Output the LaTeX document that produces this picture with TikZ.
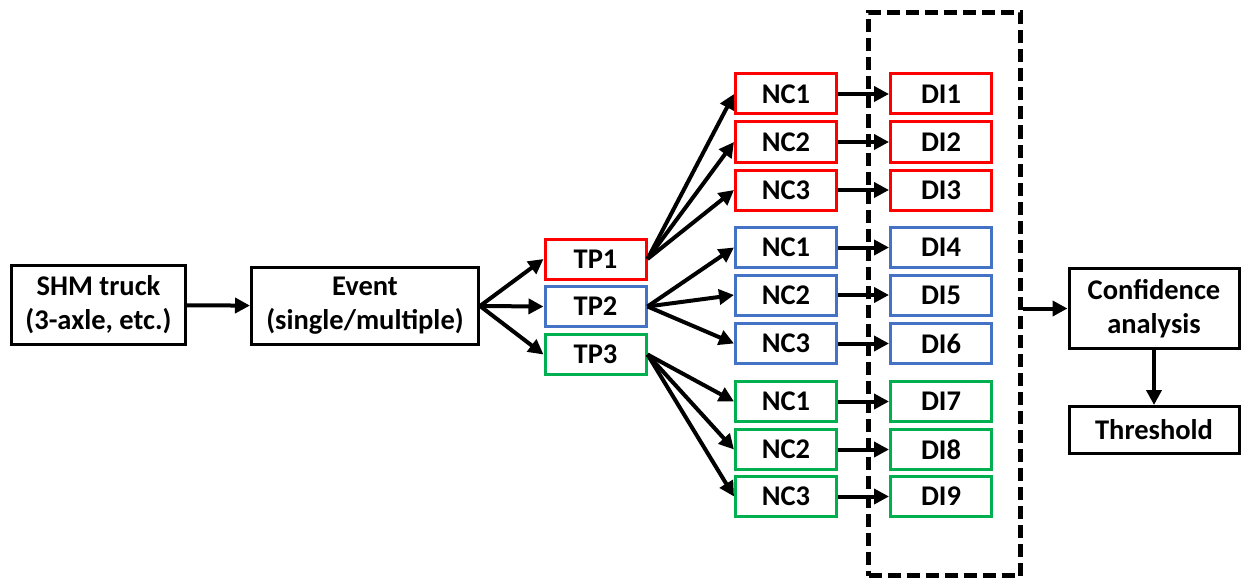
\documentclass[tikz,border=0pt]{standalone}
\usepackage{fontspec}
\setmainfont{Carlito}
\usetikzlibrary{arrows.meta}
\definecolor{tpred}{RGB}{255,0,0}
\definecolor{tpblue}{RGB}{68,114,196}
\definecolor{tpgreen}{RGB}{0,176,80}
\tikzset{arrow/.style = {line width=4pt,->,>={Stealth[length=15pt,width=15pt,inset=0pt]}}}
\tikzset{blk/.style = {draw, line width=3pt, inner sep=0pt, align=center, font=\fontsize{28.5}{34}\selectfont\bfseries}}
\tikzset{small/.style = {blk, minimum width=101pt, minimum height=40pt}}

\begin{document}
\begin{tikzpicture}[x=1pt,y=-1pt]
\useasboundingbox (0,0) rectangle (1241,583);

% left part
\node[blk, minimum width=174pt, minimum height=79pt] (truck) at (98.5,305) {SHM truck\\(3-axle, etc.)};
\node[blk, minimum width=227pt, minimum height=77pt] (event) at (365,306) {Event\\(single/multiple)};

\node[small, draw=tpred] (tp1) at (595.5,259) {TP1};
\node[small, draw=tpblue] (tp2) at (595.5,306.5) {TP2};
\node[small, draw=tpgreen] (tp3) at (595.5,354.5) {TP3};

% dashed frame round the DIs
\node[draw, dash pattern=on 13pt off 6pt, line width=5pt, minimum width=152pt, minimum height=563pt] (dibox) at (944.5,294) {};

\foreach \i/\y/\c/\k in {1/94/tpred/1, 2/142/tpred/2, 3/190/tpred/3,
                         4/247.5/tpblue/1, 5/295/tpblue/2, 6/343.5/tpblue/3,
                         7/401.5/tpgreen/1, 8/449.5/tpgreen/2, 9/496.5/tpgreen/3} {
  \node[small, draw=\c] (nc\i) at (786,\y) {NC\k};
  \node[small, draw=\c] (di\i) at (941,\y) {DI\i};
}

% right part
\node[blk, minimum width=170pt, minimum height=80pt] (conf) at (1154,308.5) {Confidence\\analysis};
\node[blk, minimum width=170pt, minimum height=47pt] (thr) at (1154,430) {Threshold};

% arrows
\draw[arrow] (truck) -- (event);
\foreach \i in {1,2,3} \draw[arrow] (event.east) -- (tp\i.west);
\foreach \i in {1,2,3} \draw[arrow] (tp1.east) -- (nc\i.west);
\foreach \i in {4,5,6} \draw[arrow] (tp2.east) -- (nc\i.west);
\foreach \i in {7,8,9} \draw[arrow] (tp3.east) -- (nc\i.west);
\foreach \i in {1,...,9} \draw[arrow] (nc\i) -- (di\i);
\draw[arrow] (dibox.east |- conf) -- (conf);
\draw[arrow] (conf) -- (thr);

\end{tikzpicture}
\end{document}
